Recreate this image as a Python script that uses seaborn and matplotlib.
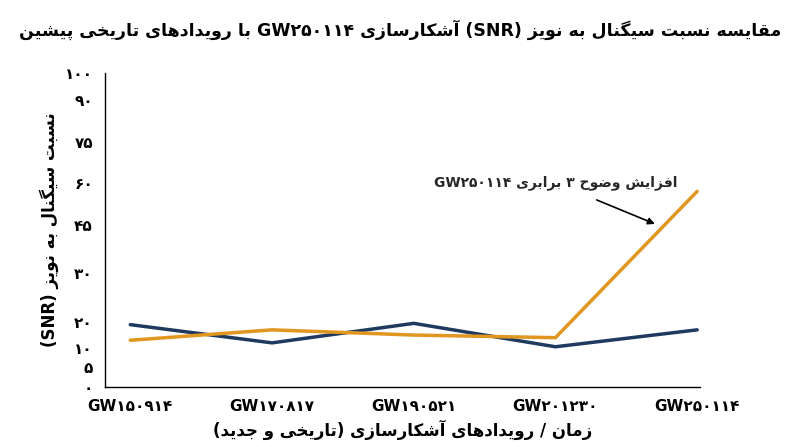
import numpy as np
import pandas as pd
import matplotlib
matplotlib.use("Agg")
import matplotlib.pyplot as plt
import seaborn as sns

# data
events = ["GW150914", "GW170817", "GW190521", "GW201230", "GW250114"]
snr_blue = [19, 12, 19.5, 10.5, 17]
snr_orange = [13, 17, 15, 14, 57]
yticks = [0, 5, 10, 20, 30, 45, 60, 75, 90, 100]
ytick_pos = [0, 20, 39, 65, 114, 162, 204, 245, 287, 314]  # uneven axis spacing as in reference

FA_DIGITS = str.maketrans("0123456789", "۰۱۲۳۴۵۶۷۸۹")

# minimal Persian shaping: isolated, final, initial, medial
FORMS = {
    "ا": (0xFE8D, 0xFE8E, None, None), "آ": (0xFE81, 0xFE82, None, None),
    "ب": (0xFE8F, 0xFE90, 0xFE91, 0xFE92), "پ": (0xFB56, 0xFB57, 0xFB58, 0xFB59),
    "ت": (0xFE95, 0xFE96, 0xFE97, 0xFE98), "ث": (0xFE99, 0xFE9A, 0xFE9B, 0xFE9C),
    "ج": (0xFE9D, 0xFE9E, 0xFE9F, 0xFEA0), "چ": (0xFB7A, 0xFB7B, 0xFB7C, 0xFB7D),
    "ح": (0xFEA1, 0xFEA2, 0xFEA3, 0xFEA4), "خ": (0xFEA5, 0xFEA6, 0xFEA7, 0xFEA8),
    "د": (0xFEA9, 0xFEAA, None, None), "ذ": (0xFEAB, 0xFEAC, None, None),
    "ر": (0xFEAD, 0xFEAE, None, None), "ز": (0xFEAF, 0xFEB0, None, None),
    "ژ": (0xFB8A, 0xFB8B, None, None),
    "س": (0xFEB1, 0xFEB2, 0xFEB3, 0xFEB4), "ش": (0xFEB5, 0xFEB6, 0xFEB7, 0xFEB8),
    "ص": (0xFEB9, 0xFEBA, 0xFEBB, 0xFEBC), "ض": (0xFEBD, 0xFEBE, 0xFEBF, 0xFEC0),
    "ط": (0xFEC1, 0xFEC2, 0xFEC3, 0xFEC4), "ظ": (0xFEC5, 0xFEC6, 0xFEC7, 0xFEC8),
    "ع": (0xFEC9, 0xFECA, 0xFECB, 0xFECC), "غ": (0xFECD, 0xFECE, 0xFECF, 0xFED0),
    "ف": (0xFED1, 0xFED2, 0xFED3, 0xFED4), "ق": (0xFED5, 0xFED6, 0xFED7, 0xFED8),
    "ک": (0xFB8E, 0xFB8F, 0xFB90, 0xFB91), "گ": (0xFB92, 0xFB93, 0xFB94, 0xFB95),
    "ل": (0xFEDD, 0xFEDE, 0xFEDF, 0xFEE0), "م": (0xFEE1, 0xFEE2, 0xFEE3, 0xFEE4),
    "ن": (0xFEE5, 0xFEE6, 0xFEE7, 0xFEE8), "و": (0xFEED, 0xFEEE, None, None),
    "ه": (0xFEE9, 0xFEEA, 0xFEEB, 0xFEEC), "ی": (0xFBFC, 0xFBFD, 0xFBFE, 0xFBFF),
}
MIRROR = {"(": ")", ")": "("}


def shape(text):
    out = []
    for i, c in enumerate(text):
        if c not in FORMS:
            out.append(c)
            continue
        p = text[i - 1] if i > 0 else ""
        n = text[i + 1] if i + 1 < len(text) else ""
        jp = p in FORMS and FORMS[p][2] is not None
        jn = FORMS[c][2] is not None and n in FORMS
        iso, fin, ini, med = FORMS[c]
        if jp and jn:
            code = med
        elif jp:
            code = fin
        elif jn:
            code = ini
        else:
            code = iso
        out.append(chr(code))
    return "".join(out)


def is_ltr(c):
    return c.isascii() and c.isalnum() or "۰" <= c <= "۹"


def fa(text):
    s = shape(text.translate(FA_DIGITS))
    runs = []
    for c in s:
        kind = is_ltr(c)
        if runs and runs[-1][0] == kind:
            runs[-1][1].append(c)
        else:
            runs.append([kind, [c]])
    vis = []
    for kind, chars in reversed(runs):
        if kind:
            vis.append("".join(chars))
        else:
            vis.append("".join(MIRROR.get(c, c) for c in reversed(chars)))
    return "".join(vis)


sns.set_style("white")
plt.rcParams["font.family"] = ["DejaVu Sans", "Noto Sans"]

df = pd.DataFrame({
    "x": list(range(len(events))) * 2,
    "snr": snr_blue + snr_orange,
    "series": ["blue"] * len(events) + ["orange"] * len(events),
})

fig = plt.figure(figsize=(8, 4.47), dpi=100)
ax = fig.add_axes([0.131, 0.134, 0.744, 0.703])

fwd = lambda v: np.interp(v, yticks, ytick_pos)
inv = lambda v: np.interp(v, ytick_pos, yticks)
ax.set_yscale("function", functions=(fwd, inv))

sns.lineplot(data=df, x="x", y="snr", hue="series",
             palette={"blue": "#1f3a5f", "orange": "#e0961f"},
             linewidth=2.5, legend=False, ax=ax)

ax.set_xlim(-0.18, 4.02)
ax.set_ylim(0, 100)
ax.set_yticks(yticks)
ax.set_yticklabels([fa(str(t)) for t in yticks], fontsize=11, fontweight="bold")
ax.set_xticks(range(len(events)))
ax.set_xticklabels([fa(e) for e in events], fontsize=11, fontweight="bold")
ax.tick_params(axis="both", direction="out", length=5, width=1, colors="black")
for side in ["top", "right"]:
    ax.spines[side].set_visible(False)
for side in ["left", "bottom"]:
    ax.spines[side].set_color("black")
    ax.spines[side].set_linewidth(1)

ax.set_xlabel(fa("زمان / رویدادهای آشکارسازی (تاریخی و جدید)"), fontsize=12, fontweight="bold", color="black")
ax.set_ylabel(fa("نسبت سیگنال به نویز (SNR)"), fontsize=12, fontweight="bold", color="black")
fig.suptitle(fa("مقایسه نسبت سیگنال به نویز (SNR) آشکارسازی GW250114 با رویدادهای تاریخی پیشین"),
             fontsize=12.5, fontweight="bold", y=0.955, color="black")

ax.annotate(fa("افزایش وضوح 3 برابری GW250114"), xy=(3.72, 45), xytext=(3.0, 60),
            ha="center", va="center", fontsize=10, fontweight="bold",
            arrowprops=dict(arrowstyle="-|>", color="black", lw=1.2, shrinkA=12))

fig.savefig("out.png", dpi=100)
